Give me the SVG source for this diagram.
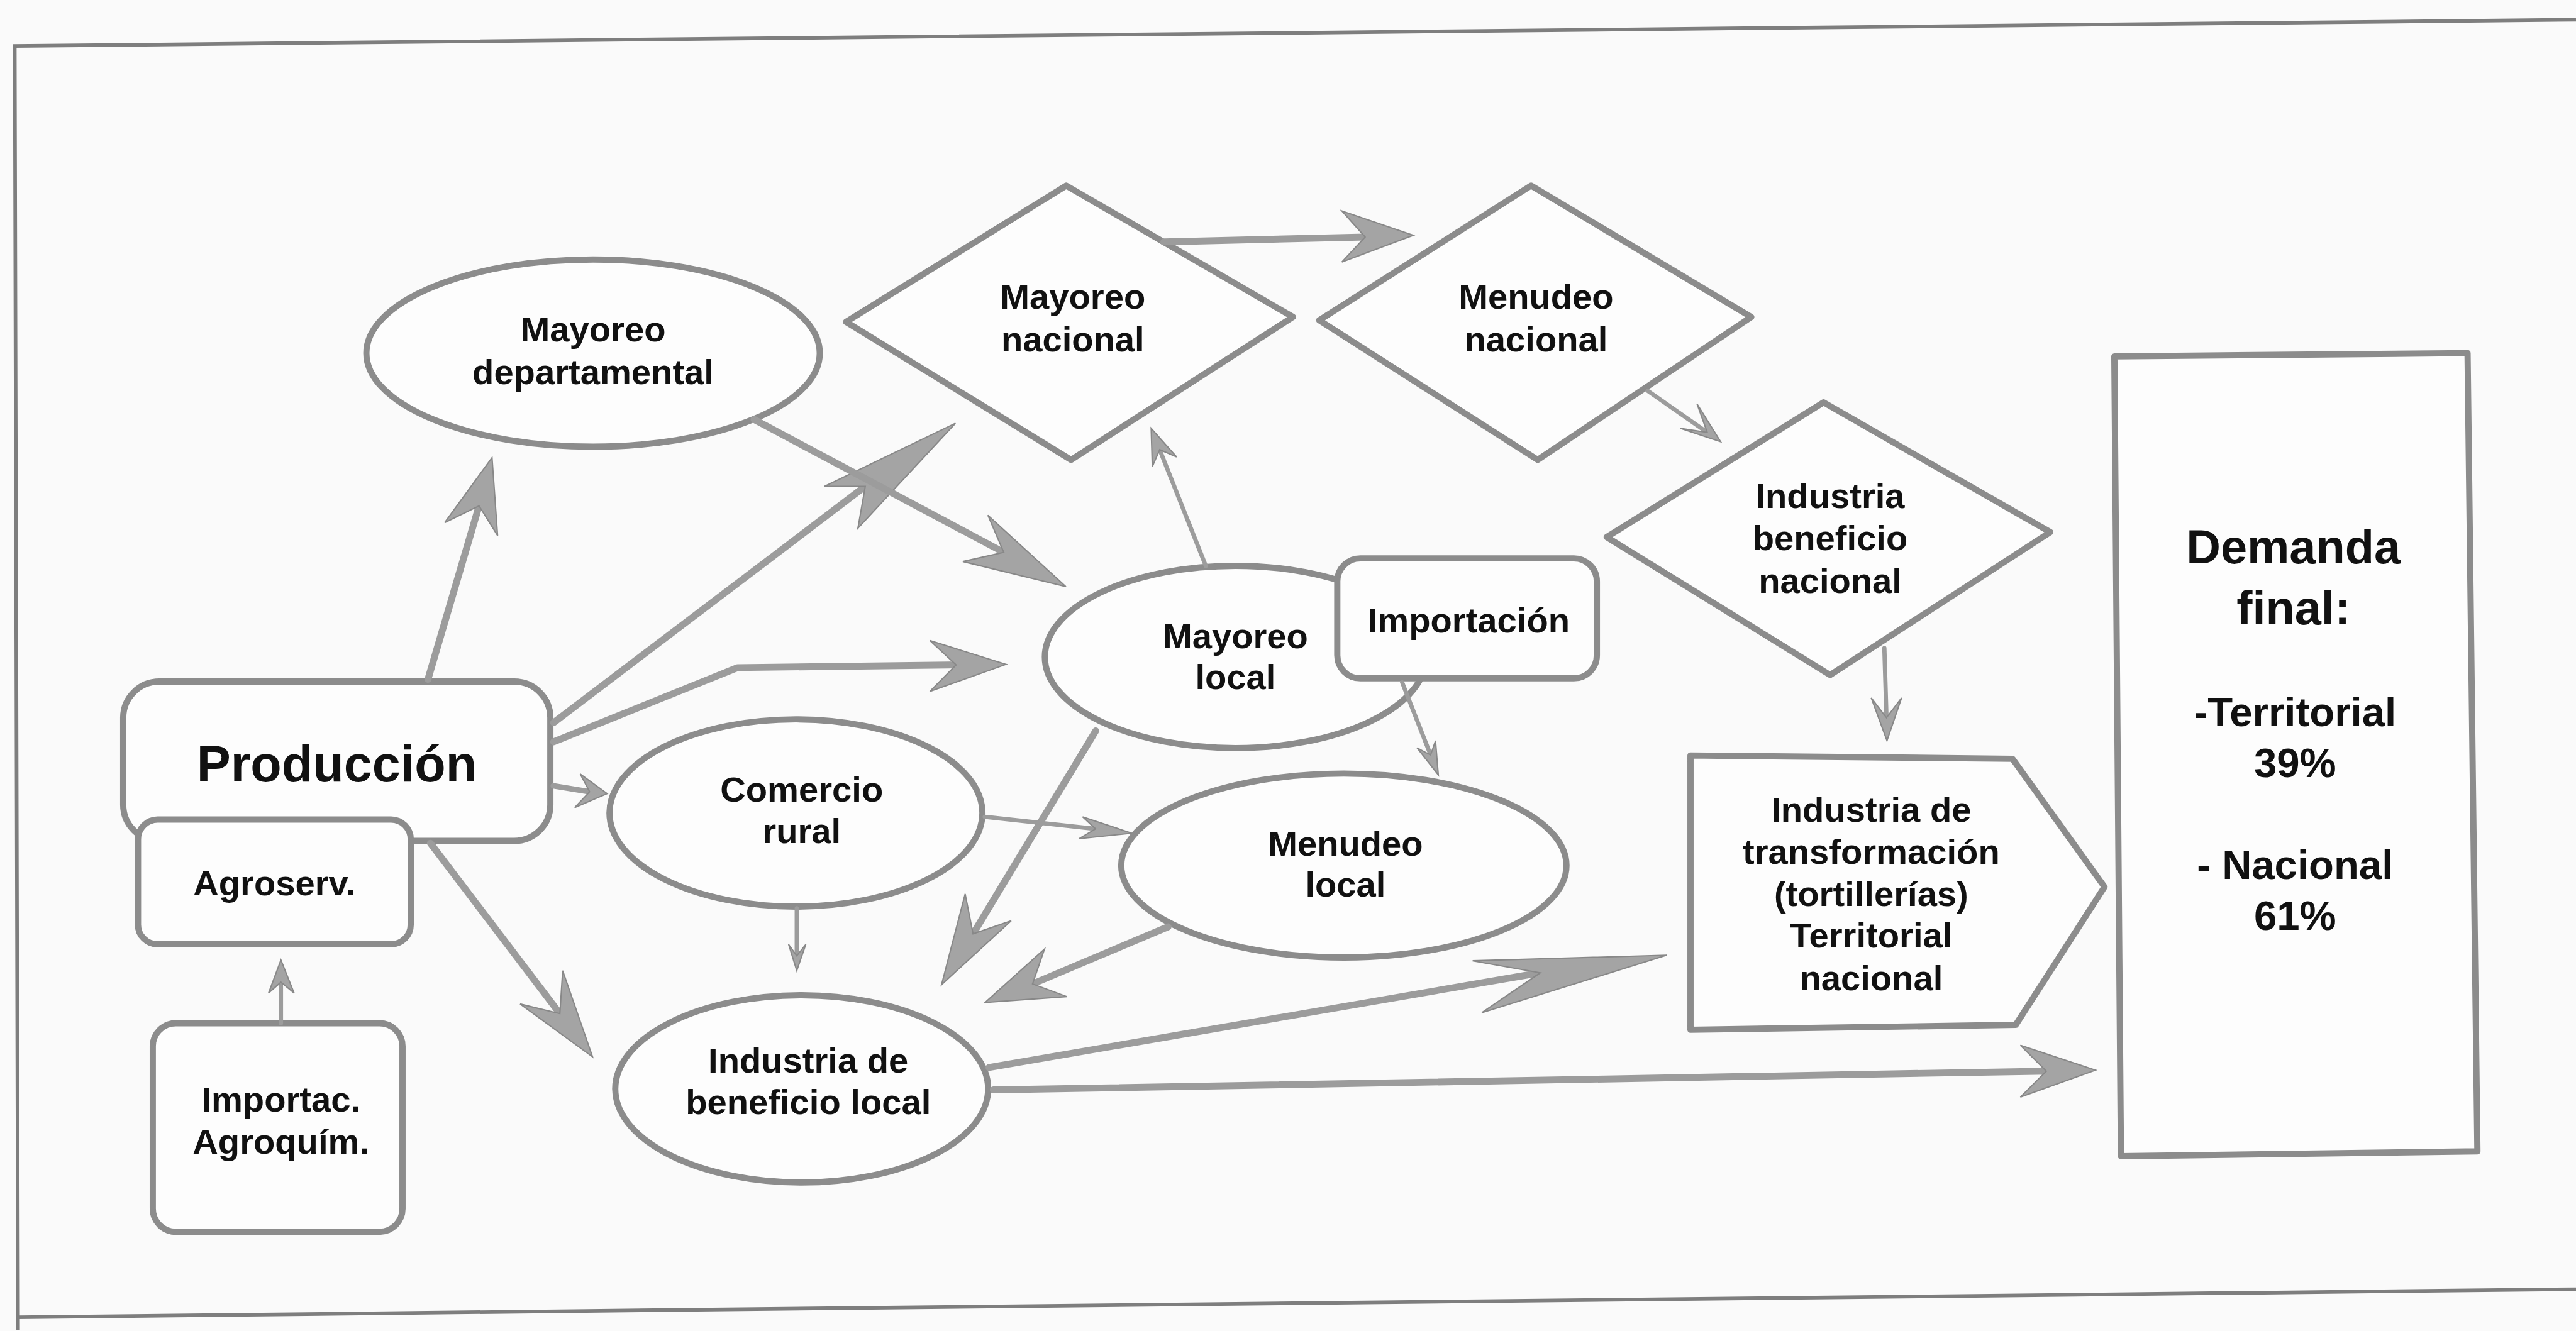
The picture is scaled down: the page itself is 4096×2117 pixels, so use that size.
<svg xmlns="http://www.w3.org/2000/svg" width="4096" height="2117" viewBox="0 0 4096 2117">
<style>
.bg{fill:#fafafa}
.fr{fill:none;stroke:#7e7e7e;stroke-width:2.2}
.nd{fill:#fdfdfd;stroke:#8c8c8c;stroke-width:3.8;stroke-linejoin:round}
.ln{fill:none;stroke:#9c9c9c;stroke-width:4.2;stroke-linecap:round;stroke-linejoin:round}
.md{stroke-width:3.4}
.th{stroke-width:2.6}
.ah{fill:#a4a4a4;stroke:#888;stroke-width:0.8;stroke-linejoin:miter}
.t{font-family:"Liberation Sans",Arial,Helvetica,sans-serif;font-weight:bold;font-size:21.5px;fill:#111;text-anchor:middle}
.big{font-size:31px}
.dm{font-size:29px}
.pc{font-size:25px}
</style>
<rect class="bg" x="0" y="0" width="4096" height="2117"/>
<g transform="scale(2.61224)">
  <g id="frame">
    <polyline class="fr" points="1568,12 9,28 11,810"/>
    <line class="fr" x1="11" y1="802" x2="1568" y2="785"/>
  </g>

  <g id="mayoreo-departamental">
    <ellipse class="nd" cx="361" cy="215" rx="138" ry="57"/>
    <text class="t" x="361" y="208">Mayoreo</text>
    <text class="t" x="361" y="234">departamental</text>
  </g>
  <g id="mayoreo-nacional">
    <polygon class="nd" points="649,113 787,193 652,280 515,196"/>
    <text class="t" x="653" y="188">Mayoreo</text>
    <text class="t" x="653" y="214">nacional</text>
  </g>
  <g id="menudeo-nacional">
    <polygon class="nd" points="932,113 1066,193 936,280 803,195"/>
    <text class="t" x="935" y="188">Menudeo</text>
    <text class="t" x="935" y="214">nacional</text>
  </g>
  <g id="industria-beneficio-nacional">
    <polygon class="nd" points="1110,245 1248,324 1114,411 978,327"/>
    <text class="t" x="1114" y="309.5">Industria</text>
    <text class="t" x="1114" y="335">beneficio</text>
    <text class="t" x="1114" y="361">nacional</text>
  </g>
  <g id="demanda-final">
    <polygon class="nd" points="1287,217 1502,215 1508,701 1291,704"/>
    <text class="t dm" x="1396" y="343">Demanda</text>
    <text class="t dm" x="1396" y="380">final:</text>
    <text class="t pc" x="1397" y="442">-Territorial</text>
    <text class="t pc" x="1397" y="473">39%</text>
    <text class="t pc" x="1397" y="535">- Nacional</text>
    <text class="t pc" x="1397" y="566">61%</text>
  </g>
  <g id="mayoreo-local">
    <ellipse class="nd" cx="752" cy="400" rx="116" ry="55.5"/>
    <text class="t" x="752" y="394.5">Mayoreo</text>
    <text class="t" x="752" y="419.5">local</text>
  </g>
  <g id="importacion">
    <rect class="nd" x="814" y="340" width="158" height="73" rx="14"/>
    <text class="t" x="894" y="385">Importación</text>
  </g>
  <g id="produccion">
    <rect class="nd" x="75" y="415" width="260" height="97" rx="22"/>
    <text class="t big" x="205" y="476">Producción</text>
  </g>
  <g id="agroserv">
    <rect class="nd" x="84" y="499" width="166" height="76" rx="12"/>
    <text class="t" x="167" y="545">Agroserv.</text>
  </g>
  <g id="importac-agroquim">
    <rect class="nd" x="93" y="623" width="152" height="127" rx="14"/>
    <text class="t" x="171" y="677">Importac.</text>
    <text class="t" x="171" y="702.5">Agroquím.</text>
  </g>
  <g id="comercio-rural">
    <ellipse class="nd" cx="484.5" cy="495" rx="113.5" ry="57"/>
    <text class="t" x="488" y="488">Comercio</text>
    <text class="t" x="488" y="513.5">rural</text>
  </g>
  <g id="menudeo-local">
    <ellipse class="nd" cx="818" cy="527" rx="135.5" ry="56"/>
    <text class="t" x="819" y="521">Menudeo</text>
    <text class="t" x="819" y="546">local</text>
  </g>
  <g id="industria-beneficio-local">
    <ellipse class="nd" cx="488" cy="663" rx="113.5" ry="57"/>
    <text class="t" x="492" y="653">Industria de</text>
    <text class="t" x="492" y="678.5">beneficio local</text>
  </g>
  <g id="industria-transformacion">
    <polygon class="nd" points="1029,460 1225,462 1281,540 1227,624 1029,627"/>
    <text class="t" x="1139" y="500.5">Industria de</text>
    <text class="t" x="1139" y="526">transformación</text>
    <text class="t" x="1139" y="551.5">(tortillerías)</text>
    <text class="t" x="1139" y="577">Territorial</text>
    <text class="t" x="1139" y="603">nacional</text>
  </g>

  <g id="connectors">
    <!-- a: Produccion -> Mayoreo departamental -->
    <line class="ln" x1="260.5" y1="413.6" x2="291.6" y2="308"/>
    <polygon class="ah" points="299.5,278.6 270.7,318.2 291.6,308 302.9,326.1"/>
    <!-- b: Produccion -> Mayoreo nacional -->
    <line class="ln" x1="337" y1="440" x2="526.7" y2="296.1"/>
    <polygon class="ah" points="581.6,257.7 501.9,296.1 526.7,296.1 522.2,321.6"/>
    <!-- c: Mayoreo departamental -> Mayoreo local -->
    <line class="ln" x1="459" y1="255.4" x2="611" y2="336.3"/>
    <polygon class="ah" points="648.8,357.2 601.3,313.7 611,336.3 586.1,341.9"/>
    <!-- d: Produccion -> Mayoreo local -->
    <polyline class="ln" points="337,451.7 449,406.5 584,404.8"/>
    <polygon class="ah" points="612.4,404.5 566,390 582,404.8 566,421"/>
    <!-- e: Produccion -> Comercio rural -->
    <line class="ln md" x1="336.8" y1="478.5" x2="358.9" y2="482.1"/>
    <polygon class="ah" points="369.6,483.2 353.2,471.3 358.9,482.1 349.8,491.7"/>
    <!-- f: Produccion -> Industria de beneficio local -->
    <line class="ln" x1="262" y1="513.4" x2="340.8" y2="617.2"/>
    <polygon class="ah" points="360.7,643.5 316.6,611.3 340.8,617.2 342.5,591"/>
    <!-- g: Importac. Agroquim. -> Agroserv. -->
    <line class="ln th" x1="171" y1="623" x2="171" y2="598"/>
    <polygon class="ah" points="171,584.5 163.5,604.6 171,598 179,604.6"/>
    <!-- h: Mayoreo local -> Mayoreo nacional -->
    <line class="ln th" x1="734" y1="344.6" x2="705.9" y2="273.8"/>
    <polygon class="ah" points="700.7,260.8 716.2,278.2 705.9,273.8 701.4,284.2"/>
    <!-- i: Mayoreo nacional -> Menudeo nacional -->
    <line class="ln" x1="708.4" y1="147.3" x2="831" y2="144.3"/>
    <polygon class="ah" points="860.3,143.3 816.8,128.4 831,144.3 816.8,159.5"/>
    <!-- j: Menudeo nacional -> Industria beneficio nacional -->
    <line class="ln th" x1="1002.9" y1="237.9" x2="1039.2" y2="263.3"/>
    <polygon class="ah" points="1047.4,269 1033,246 1039.2,263.3 1022.8,260.8"/>
    <!-- k: Industria beneficio nacional -> Industria de transformacion -->
    <line class="ln th" x1="1147" y1="394.6" x2="1148.3" y2="437"/>
    <polygon class="ah" points="1148.6,451 1139,424.9 1148.3,437 1157.5,424.9"/>
    <!-- l: Importacion -> Menudeo local -->
    <line class="ln th" x1="853.5" y1="415.5" x2="870.8" y2="459.7"/>
    <polygon class="ah" points="875.5,471.8 873.8,451 870.8,459.7 862.6,455.4"/>
    <!-- m: Mayoreo local -> Industria de beneficio local -->
    <line class="ln" x1="667" y1="445" x2="592.3" y2="568.6"/>
    <polygon class="ah" points="573.1,599.6 587.5,544.3 592.3,568.6 615.5,560.6"/>
    <!-- n: Comercio rural -> Menudeo local -->
    <line class="ln th" x1="599.4" y1="497.3" x2="666.9" y2="504.7"/>
    <polygon class="ah" points="688.9,507.3 659,497.4 666.9,504.7 656.7,510.7"/>
    <!-- o: Comercio rural -> Industria de beneficio local -->
    <line class="ln th" x1="485" y1="553" x2="485" y2="582"/>
    <polygon class="ah" points="485,591 480,575 485,582 490.5,575"/>
    <!-- p: Menudeo local -> Industria de beneficio local -->
    <line class="ln" x1="711" y1="564.3" x2="628.5" y2="599.1"/>
    <polygon class="ah" points="599.6,610.4 635.8,577.8 628.5,599.1 649.4,606.8"/>
    <!-- q: Industria de beneficio local -> Industria de transformacion -->
    <line class="ln" x1="602" y1="650" x2="937.6" y2="592.3"/>
    <polygon class="ah" points="1014.5,581.6 896.4,585 937.6,592.3 902,616.6"/>
    <!-- r: Industria de beneficio local -> Demanda final -->
    <line class="ln" x1="604.6" y1="663.6" x2="1245.6" y2="652.2"/>
    <polygon class="ah" points="1275.6,651.6 1229.8,636.4 1245.6,652.2 1229.8,668"/>
  </g>
</g>
</svg>
